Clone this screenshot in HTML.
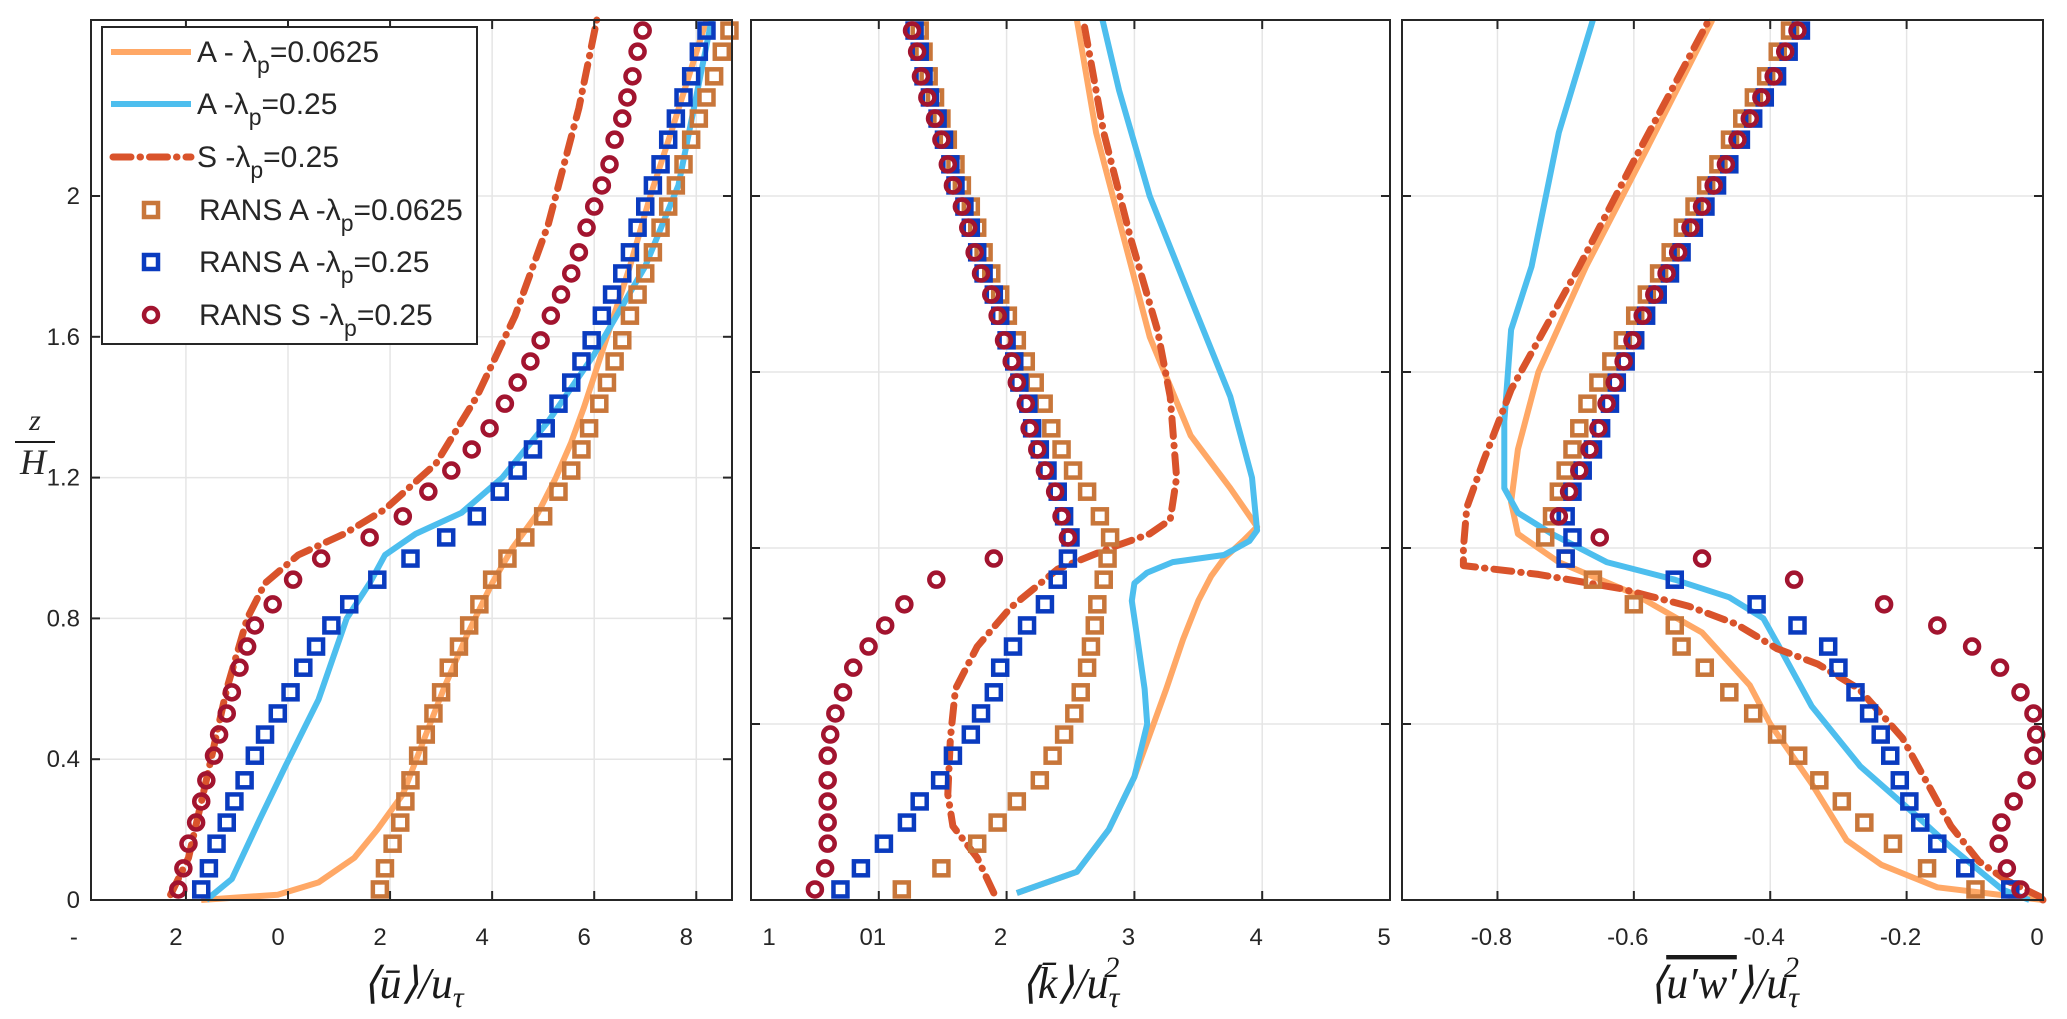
<!DOCTYPE html>
<html><head><meta charset="utf-8"><style>
html,body{margin:0;padding:0;background:#fff;}
svg{display:block;}
text{font-family:"Liberation Sans",sans-serif;fill:#262626;}
.ttl{font-family:"Liberation Serif",serif;font-style:italic;font-size:44px;fill:#1a1a1a;}
</style></head><body>
<svg id="fig" width="2067" height="1019" viewBox="0 0 2067 1019" xmlns="http://www.w3.org/2000/svg">
<g id="layer"></g>
</svg>
<script>
// ---------- data ----------
const zRans = [0.03,0.09,0.16,0.22,0.28,0.34,0.41,0.47,0.53,0.59,0.66,0.72,0.78,0.84,0.91,0.97,1.03,1.09,1.16,1.22,1.28,1.34,1.41,1.47,1.53,1.59,1.66,1.72,1.78,1.84,1.91,1.97,2.03,2.09,2.16,2.22,2.28,2.34,2.41,2.47];
// panel 1: mean velocity
const uRansA0625 = [1.8,1.9,2.05,2.2,2.3,2.4,2.55,2.7,2.85,3.0,3.15,3.35,3.55,3.75,4.0,4.3,4.65,5.0,5.3,5.55,5.75,5.9,6.1,6.25,6.4,6.55,6.7,6.85,7.0,7.15,7.3,7.45,7.6,7.75,7.9,8.05,8.2,8.35,8.5,8.65];
const uRansA25 = [-1.7,-1.55,-1.4,-1.2,-1.05,-0.85,-0.65,-0.45,-0.2,0.05,0.3,0.55,0.85,1.2,1.75,2.4,3.1,3.7,4.15,4.5,4.8,5.05,5.3,5.55,5.75,5.95,6.15,6.35,6.55,6.7,6.85,7.0,7.15,7.3,7.45,7.6,7.75,7.9,8.05,8.2];
const uRansS25 = [-2.15,-2.05,-1.95,-1.8,-1.7,-1.6,-1.45,-1.35,-1.2,-1.1,-0.95,-0.8,-0.65,-0.3,0.1,0.65,1.6,2.25,2.75,3.2,3.6,3.95,4.25,4.5,4.75,4.95,5.15,5.35,5.55,5.7,5.85,6.0,6.15,6.3,6.4,6.55,6.65,6.75,6.85,6.95];
const zLesA0625u = [0,0.015,0.05,0.12,0.2,0.3,0.45,0.6,0.75,0.9,1.0,1.05,1.1,1.2,1.3,1.4,1.6,1.8,2.0,2.2,2.5];
const uLesA0625 = [-1.7,-0.2,0.6,1.3,1.75,2.25,2.65,3.05,3.5,4.0,4.4,4.65,4.9,5.25,5.55,5.8,6.25,6.7,7.1,7.55,8.2];
const zLesA25u = [0,0.06,0.23,0.38,0.57,0.8,0.9,0.98,1.04,1.1,1.2,1.36,1.55,1.8,2.03,2.5];
const uLesA25 = [-1.6,-1.1,-0.55,-0.05,0.6,1.15,1.6,1.9,2.5,3.4,4.2,5.1,6.0,7.0,7.65,8.3];
const zLesS25u = [0.015,0.12,0.34,0.6,0.8,0.9,0.98,1.04,1.11,1.24,1.43,1.66,1.92,2.25,2.5];
const uLesS25 = [-2.3,-1.95,-1.6,-1.2,-0.8,-0.45,0.2,1.1,1.9,2.9,3.7,4.45,5.1,5.7,6.05];
// panel 2: TKE
const kRansA0625 = [1.18,1.49,1.77,1.93,2.08,2.26,2.36,2.45,2.53,2.58,2.63,2.66,2.69,2.71,2.76,2.79,2.81,2.73,2.63,2.52,2.43,2.35,2.29,2.22,2.15,2.08,2.01,1.95,1.88,1.82,1.77,1.72,1.65,1.6,1.54,1.49,1.44,1.39,1.35,1.32];
const kRansA25 = [0.7,0.86,1.04,1.22,1.32,1.48,1.58,1.72,1.8,1.9,1.95,2.05,2.16,2.3,2.4,2.48,2.5,2.45,2.4,2.32,2.26,2.2,2.17,2.1,2.06,2.0,1.95,1.9,1.82,1.77,1.72,1.67,1.6,1.56,1.51,1.46,1.4,1.35,1.32,1.28];
const kRansS25 = [0.5,0.58,0.6,0.6,0.6,0.6,0.6,0.62,0.66,0.72,0.8,0.92,1.05,1.2,1.45,1.9,2.48,2.43,2.38,2.3,2.24,2.18,2.15,2.08,2.04,1.98,1.93,1.88,1.8,1.75,1.7,1.65,1.58,1.54,1.49,1.44,1.38,1.33,1.3,1.26];
const zLesA0625k = [0.02,0.08,0.2,0.35,0.45,0.6,0.74,0.85,0.92,0.97,1.02,1.06,1.17,1.32,1.6,2.18,2.5];
const kLesA0625 = [2.08,2.55,2.8,3.0,3.1,3.25,3.38,3.5,3.6,3.7,3.85,3.96,3.75,3.44,3.12,2.7,2.55];
const zLesA25k = [0.02,0.08,0.2,0.35,0.5,0.6,0.75,0.85,0.9,0.93,0.96,0.98,1.02,1.05,1.2,1.43,1.7,2.0,2.3,2.5];
const kLesA25 = [2.08,2.55,2.8,3.0,3.1,3.08,3.02,2.98,3.0,3.1,3.3,3.7,3.9,3.96,3.92,3.75,3.45,3.12,2.88,2.75];
const zLesS25k = [0.02,0.12,0.21,0.3,0.46,0.6,0.72,0.83,0.94,1.0,1.04,1.08,1.2,1.43,1.62,1.88,2.18,2.5];
const kLesS25 = [1.9,1.77,1.58,1.54,1.56,1.6,1.77,2.03,2.4,2.81,3.12,3.28,3.33,3.28,3.18,2.97,2.76,2.6];
// panel 3: Reynolds stress
const wRansA0625 = [-0.099,-0.17,-0.22,-0.262,-0.295,-0.328,-0.359,-0.39,-0.425,-0.46,-0.496,-0.53,-0.54,-0.6,-0.66,-0.7,-0.73,-0.72,-0.71,-0.70,-0.69,-0.68,-0.668,-0.652,-0.633,-0.616,-0.598,-0.581,-0.563,-0.546,-0.528,-0.511,-0.494,-0.476,-0.459,-0.441,-0.424,-0.406,-0.389,-0.371];
const wRansA25 = [-0.048,-0.114,-0.155,-0.18,-0.196,-0.21,-0.224,-0.238,-0.255,-0.275,-0.3,-0.315,-0.36,-0.42,-0.54,-0.7,-0.69,-0.70,-0.69,-0.675,-0.66,-0.648,-0.635,-0.625,-0.612,-0.598,-0.582,-0.565,-0.547,-0.53,-0.512,-0.495,-0.478,-0.46,-0.443,-0.425,-0.408,-0.39,-0.373,-0.355];
const wRansS25 = [-0.033,-0.053,-0.065,-0.061,-0.043,-0.024,-0.014,-0.01,-0.014,-0.033,-0.063,-0.104,-0.155,-0.233,-0.365,-0.5,-0.65,-0.71,-0.695,-0.68,-0.665,-0.652,-0.64,-0.628,-0.615,-0.602,-0.587,-0.57,-0.552,-0.535,-0.517,-0.5,-0.483,-0.465,-0.448,-0.43,-0.413,-0.395,-0.378,-0.36];
const zLesA0625w = [0,0.036,0.10,0.17,0.33,0.5,0.61,0.76,0.87,0.96,1.04,1.13,1.28,1.5,1.8,2.1,2.5];
const wLesA0625 = [0,-0.155,-0.237,-0.288,-0.339,-0.4,-0.43,-0.5,-0.6,-0.71,-0.77,-0.78,-0.77,-0.74,-0.67,-0.59,-0.485];
const zLesA25w = [0,0.03,0.15,0.24,0.38,0.55,0.73,0.8,0.86,0.91,0.96,1.04,1.1,1.17,1.36,1.62,1.8,2.18,2.5];
const wLesA25 = [-0.02,-0.06,-0.135,-0.186,-0.268,-0.339,-0.39,-0.41,-0.46,-0.54,-0.64,-0.72,-0.77,-0.79,-0.79,-0.78,-0.75,-0.71,-0.66];
const zLesS25w = [0,0.01,0.055,0.11,0.21,0.46,0.6,0.67,0.714,0.784,0.835,0.885,0.925,0.95,1.0,1.115,1.25,1.45,1.8,2.1,2.5];
const wLesS25 = [0,-0.005,-0.053,-0.094,-0.135,-0.206,-0.27,-0.33,-0.39,-0.45,-0.52,-0.62,-0.74,-0.85,-0.85,-0.845,-0.82,-0.78,-0.68,-0.6,-0.49];

const tick1 = [-4,-2,0,2,4,6,8];
const tick1Labels = ["-","2","0","2","4","6","8"];
const tick2 = [1,2,3,4,5];
const tick2Labels = ["01","2","3","4","5"];
const tick3 = [-0.8,-0.6,-0.4,-0.2,0];
const tick3Labels = ["-0.8","-0.6","-0.4","-0.2","0"];
const yTicks1 = [0,0.4,0.8,1.2,1.6,2];
const yTicks23 = [0,0.5,1,1.5,2];

// ---------- drawing ----------
const NS="http://www.w3.org/2000/svg";
const root=document.getElementById('layer');
function mk(tag,attrs,parent){const e=document.createElementNS(NS,tag);for(const k in attrs)e.setAttribute(k,attrs[k]);(parent||root).appendChild(e);return e;}
const Y0=900, Y1=20, ZMAX=2.5;
function yz(z){return Y0-(z/ZMAX)*(Y0-Y1);}
const C={lo:'#ffa866',lb:'#4dbeee',ls:'#d9532b',so:'#c8763a',sb:'#0a3bbf',cr:'#a2142f'};

function panel(name,x0,x1,d0,d1,ticks,yticks){
  const sx=v=>x0+(v-d0)/(d1-d0)*(x1-x0);
  const g=mk('g',{});
  
  
  mk('rect',{x:x0,y:Y1,width:x1-x0,height:Y0-Y1,fill:'#fff'},g);
  ticks.forEach(t=>{if(t>d0&&t<d1){const l=mk('line',{x1:sx(t),x2:sx(t),y1:Y1,y2:Y0,stroke:'#e5e5e5','stroke-width':1.5},g);}});
  yticks.forEach(t=>{if(t>0){const l=mk('line',{x1:x0,x2:x1,y1:yz(t),y2:yz(t),stroke:'#e5e5e5','stroke-width':1.5},g);}});
  return {g,sx};
}
function axesFrame(p,x0,x1,ticks,yticks,showY,d0,d1){
  const g=mk('g',{});
  
  
  mk('rect',{x:x0,y:Y1,width:x1-x0,height:Y0-Y1,fill:'none',stroke:'#262626','stroke-width':2},g);
  ticks.forEach(t=>{
    const x=p.sx(t);
    if(t>=d0&&t<=d1){
      mk('line',{x1:x,x2:x,y1:Y0,y2:Y0-9,stroke:'#262626','stroke-width':2},g);
      mk('line',{x1:x,x2:x,y1:Y1,y2:Y1+9,stroke:'#262626','stroke-width':2},g);
    }
  });
  yticks.forEach(t=>{const y=yz(t);
    mk('line',{x1:x0,x2:x0+9,y1:y,y2:y,stroke:'#262626','stroke-width':2},g);
    mk('line',{x1:x1,x2:x1-9,y1:y,y2:y,stroke:'#262626','stroke-width':2},g);
    if(showY){const tx=mk('text',{x:x0-11,y:y+8,'font-size':24,'text-anchor':'end'},g);tx.textContent=(t===0?'0':String(t));
      
      }
  });
}
function line(p,zs,vs,color,name,dash){
  const d=zs.map((z,i)=>(i?'L':'M')+p.sx(vs[i]).toFixed(1)+','+yz(z).toFixed(1)).join(' ');
  const a={d:d,fill:'none',stroke:color,'stroke-width':dash?7:6,'stroke-linejoin':'round'};
  if(dash){a['stroke-dasharray']='18 9 0.5 9';a['stroke-linecap']='round';}
  const e=mk('path',a,p.g);
  
  
}
function squares(p,zs,vs,color,name){
  const g=mk('g',{},p.g);
  
  
  zs.forEach((z,i)=>{const s=mk('rect',{x:p.sx(vs[i])-7,y:yz(z)-7,width:14,height:14,fill:'none',stroke:color,'stroke-width':4.5},g);
    
    });
}
function circles(p,zs,vs,color,name){
  const g=mk('g',{},p.g);
  
  
  zs.forEach((z,i)=>{const c=mk('circle',{cx:p.sx(vs[i]),cy:yz(z),r:7,fill:'none',stroke:color,'stroke-width':4.5},g);
    
    });
}
function xlabels(p,ticks,labels,offs){
  ticks.forEach((t,i)=>{const tx=mk('text',{x:p.sx(t)+(offs||0),y:945,'font-size':24,'text-anchor':'middle'});tx.textContent=labels[i];
    
    });
}

// panel 1
const D1=[-3.86,8.7];
const P1=panel('velocity-panel',91,732,D1[0],D1[1],tick1,yTicks1);
line(P1,zLesA0625u,uLesA0625,C.lo,'line-a-0625');
line(P1,zLesA25u,uLesA25,C.lb,'line-a-025');
line(P1,zLesS25u,uLesS25,C.ls,'line-s-025',true);
squares(P1,zRans,uRansA0625,C.so,'rans-a-0625-markers');
squares(P1,zRans,uRansA25,C.sb,'rans-a-025-markers');
circles(P1,zRans,uRansS25,C.cr,'rans-s-025-markers');
axesFrame(P1,91,732,tick1,yTicks1,true,D1[0],D1[1]);
xlabels(P1,tick1,tick1Labels,-10);

// panel 2
const P2=panel('tke-panel',751,1390,0,5,tick2,yTicks23);
line(P2,zLesA0625k,kLesA0625,C.lo,'line-a-0625');
line(P2,zLesA25k,kLesA25,C.lb,'line-a-025');
line(P2,zLesS25k,kLesS25,C.ls,'line-s-025',true);
squares(P2,zRans,kRansA0625,C.so,'rans-a-0625-markers');
squares(P2,zRans,kRansA25,C.sb,'rans-a-025-markers');
circles(P2,zRans,kRansS25,C.cr,'rans-s-025-markers');
axesFrame(P2,751,1390,tick2,yTicks23,false,0,5);
xlabels(P2,tick2,tick2Labels,-6);
{const tx=mk('text',{x:769,y:945,'font-size':24,'text-anchor':'middle'});tx.textContent='1';
 
 }

// panel 3
const D3=[-0.94,0];
const P3=panel('stress-panel',1402,2043,D3[0],D3[1],tick3,yTicks23);
line(P3,zLesA0625w,wLesA0625,C.lo,'line-a-0625');
line(P3,zLesA25w,wLesA25,C.lb,'line-a-025');
line(P3,zLesS25w,wLesS25,C.ls,'line-s-025',true);
squares(P3,zRans,wRansA0625,C.so,'rans-a-0625-markers');
squares(P3,zRans,wRansA25,C.sb,'rans-a-025-markers');
circles(P3,zRans,wRansS25,C.cr,'rans-s-025-markers');
axesFrame(P3,1402,2043,tick3,yTicks23,false,D3[0],D3[1]);
xlabels(P3,tick3,tick3Labels,-6);

// legend
const L=mk('g',{});


mk('rect',{x:102,y:27,width:375,height:317,fill:'#fff',stroke:'#262626','stroke-width':2},L);
const legYs=[52,104,157,210,262,315];
const legPre=['A - λ','A -λ','S -λ','RANS A -λ','RANS A -λ','RANS S -λ'];
const legPost=['=0.0625','=0.25','=0.25','=0.0625','=0.25','=0.25'];
legYs.forEach((y,i)=>{
  const e=mk('g',{},L);
  
  
  if(i===0) mk('line',{x1:111,x2:191,y1:y,y2:y,stroke:C.lo,'stroke-width':6},e);
  if(i===1) mk('line',{x1:111,x2:191,y1:y,y2:y,stroke:C.lb,'stroke-width':6},e);
  if(i===2) mk('line',{x1:113,x2:191,y1:y,y2:y,stroke:C.ls,'stroke-width':7,'stroke-dasharray':'18 9 0.5 9','stroke-linecap':'round'},e);
  if(i===3) mk('rect',{x:144,y:y-7,width:14,height:14,fill:'none',stroke:C.so,'stroke-width':4.5},e);
  if(i===4) mk('rect',{x:144,y:y-7,width:14,height:14,fill:'none',stroke:C.sb,'stroke-width':4.5},e);
  if(i===5) mk('circle',{cx:151,cy:y,r:7,fill:'none',stroke:C.cr,'stroke-width':4.5},e);
  const t=mk('text',{x:i<3?197:199,y:y+10,'font-size':30},e);
  const a=document.createElementNS(NS,'tspan');a.textContent=legPre[i];t.appendChild(a);
  const b=document.createElementNS(NS,'tspan');b.setAttribute('dy','11');b.setAttribute('font-size','23');b.textContent='p';t.appendChild(b);
  const c=document.createElementNS(NS,'tspan');c.setAttribute('dy','-11');c.textContent=legPost[i];t.appendChild(c);
});
</script>
<svg style="position:absolute;left:0;top:0" width="2067" height="1019" xmlns="http://www.w3.org/2000/svg">
<g>
<text x="35" y="430" font-size="30" text-anchor="middle" style="font-family:'Liberation Serif',serif;font-style:italic;">z</text>
<line x1="15" x2="55" y1="442" y2="442" stroke="#1a1a1a" stroke-width="2"/>
<text x="33" y="474" font-size="36" text-anchor="middle" style="font-family:'Liberation Serif',serif;font-style:italic;">H</text>
</g>
<text class="ttl" x="413" y="998" text-anchor="middle">⟨ū⟩/u<tspan dy="9" font-size="30">τ</tspan></text>
<text class="ttl" x="1070" y="998" text-anchor="middle">⟨k̄⟩/u<tspan dy="9" font-size="30">τ</tspan><tspan dy="-30" dx="-15" font-size="30">2</tspan></text>
<text class="ttl" x="1724" y="998" text-anchor="middle">⟨<tspan text-decoration="overline">u′w′</tspan>⟩/u<tspan dy="9" font-size="30">τ</tspan><tspan dy="-30" dx="-15" font-size="30">2</tspan></text>
</svg>
</body></html>
